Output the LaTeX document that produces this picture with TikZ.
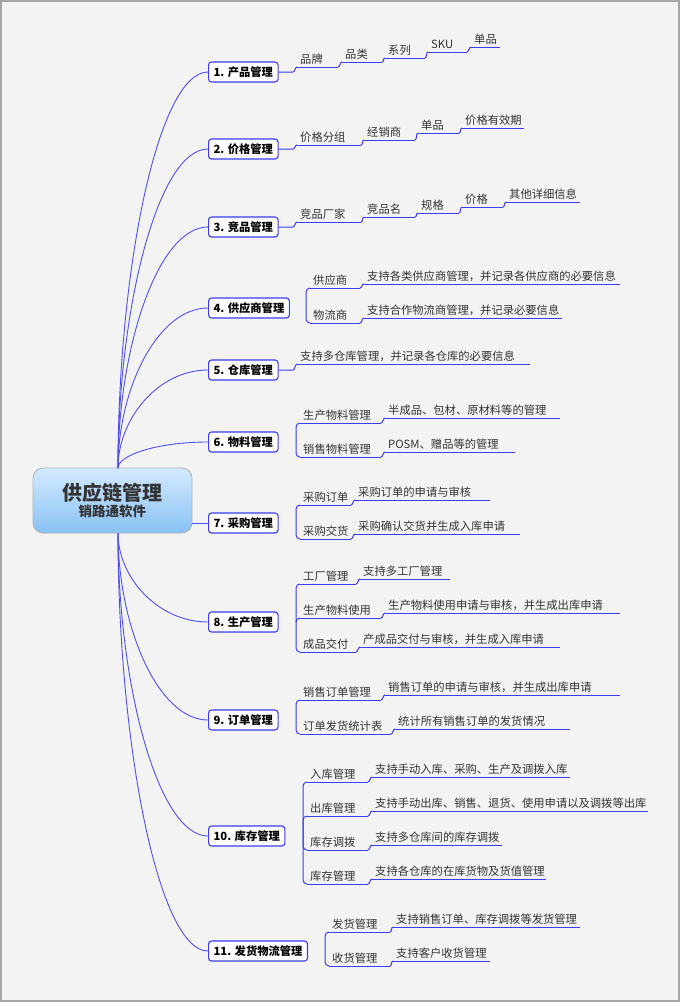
\documentclass[tikz,border=0pt]{standalone}
\usepackage{fontspec}
\setmainfont{Noto Sans CJK SC}
\usetikzlibrary{calc}
\definecolor{bg}{HTML}{F3F3F3}
\definecolor{ln}{HTML}{3C3CF0}
\definecolor{cn}{HTML}{5050EE}
\definecolor{tx}{HTML}{333333}
\definecolor{ctop}{HTML}{D4EAFF}
\definecolor{cbot}{HTML}{88C2F4}
\tikzset{
  ul/.style={draw=ln,line width=1pt},
  conn/.style={draw=cn,line width=0.9pt},
  lbl/.style={inner sep=0pt,font=\fontsize{11.3}{13}\selectfont,text=tx},
  box/.style={draw=ln,line width=1.1pt,rounded corners=3pt,fill=white,inner xsep=5pt,inner ysep=0pt,minimum height=20pt,font=\bfseries\fontsize{11.3}{13}\selectfont,text=black,anchor=west},
}
\newcommand{\seg}[5]{%
  \coordinate (#1-a) at (#2,#4);\coordinate (#1-b) at (#3,#4);
  \draw[ul] (#1-a)--(#1-b);
  \node[lbl,anchor=base west] (#1) at (#2+3,#4-4) {#5};}
\newcommand{\stp}[2]{\draw[ul] (#1-b) .. controls +(2,0) and +(-2,0) .. (#2-a);}
\newcommand{\brc}[3]{\draw[ul,rounded corners=4pt] ($(#1.east)!1!(#2,0|-#1.east)$) |- (#3-a);}
\newcommand{\br}[2]{\draw[conn] (#1) .. controls ($(#1)!0.5!(#1|-#2.west)$) and ($(#2.west)+(-50,0)$) .. (#2.west);}
\begin{document}
\begin{tikzpicture}[x=1pt,y=-1pt]
\useasboundingbox (0,0) rectangle (680,1002);
\draw[fill=bg,draw=gray!70,line width=1.5pt] (1,1) rectangle (679,1001);

\node[draw=gray!60,line width=0.8pt,rounded corners=10pt,top color=ctop,bottom color=cbot,minimum width=159pt,minimum height=65pt,align=center,text=tx] (c) at (112.5,500.5) {{\bfseries\fontsize{20}{24}\selectfont 供应链管理}\\[1pt]{\bfseries\fontsize{13.5}{15}\selectfont 销路通软件}};
\coordinate (ct) at (118,468);
\coordinate (cb) at (118,533);

\node[box] (b1) at (208,72) {1. 产品管理};
\node[box] (b2) at (208,149) {2. 价格管理};
\node[box] (b3) at (208,227) {3. 竞品管理};
\node[box] (b4) at (208,308) {4. 供应商管理};
\node[box] (b5) at (208,370) {5. 仓库管理};
\node[box] (b6) at (208,442) {6. 物料管理};
\node[box] (b7) at (208,523) {7. 采购管理};
\node[box] (b8) at (208,622) {8. 生产管理};
\node[box] (b9) at (208,720) {9. 订单管理};
\node[box] (b10) at (208,836) {10. 库存管理};
\node[box] (b11) at (208,951) {11. 发货物流管理};

\br{ct}{b1}\br{ct}{b2}\br{ct}{b3}\br{ct}{b4}\br{ct}{b5}\br{ct}{b6}
\draw[conn] (c.east|-b7) -- (b7.west);
\br{cb}{b8}\br{cb}{b9}\br{cb}{b10}\br{cb}{b11}

% 1
\seg{p1}{297}{338}{67}{品牌}\seg{p2}{342}{382}{62}{品类}\seg{p3}{385}{425}{58}{系列}\seg{p4}{428}{467}{52}{SKU}\seg{p5}{471}{500}{47}{单品}
\draw[ul] (b1.east) -- (293,72) .. controls (295,72) and (295,67) .. (p1-a);
\stp{p1}{p2}\stp{p2}{p3}\stp{p3}{p4}\stp{p4}{p5}
% 2
\seg{q1}{297}{361}{145}{价格分组}\seg{q2}{364}{415}{140}{经销商}\seg{q3}{418}{459}{133}{单品}\seg{q4}{462}{524}{128}{价格有效期}
\draw[ul] (b2.east) -- (293,149) .. controls (295,149) and (295,145) .. (q1-a);
\stp{q1}{q2}\stp{q2}{q3}\stp{q3}{q4}
% 3
\seg{r1}{297}{361}{222}{竞品厂家}\seg{r2}{364}{415}{217}{竞品名}\seg{r3}{418}{459}{213}{规格}\seg{r4}{462}{503}{207}{价格}\seg{r5}{506}{580}{202}{其他详细信息}
\draw[ul] (b3.east) -- (293,227) .. controls (295,227) and (295,222) .. (r1-a);
\stp{r1}{r2}\stp{r2}{r3}\stp{r3}{r4}\stp{r4}{r5}
% 4
\seg{s1}{310}{360}{288}{供应商}\seg{s1x}{364}{620}{284}{支持各类供应商管理，并记录各供应商的必要信息}
\seg{s2}{310}{360}{323}{物流商}\seg{s2x}{364}{562}{318}{支持合作物流商管理，并记录必要信息}
\brc{b4}{306}{s1}\brc{b4}{306}{s2}\stp{s1}{s1x}\stp{s2}{s2x}
% 5
\seg{t1}{297}{530}{364}{支持多仓库管理，并记录各仓库的必要信息}
\draw[ul] (b5.east) -- (293,370) .. controls (295,370) and (295,364) .. (t1-a);
% 6
\seg{u1}{300}{381}{423}{生产物料管理}\seg{u1x}{385}{560}{418}{半成品、包材、原材料等的管理}
\seg{u2}{300}{381}{457}{销售物料管理}\seg{u2x}{385}{515}{452}{POSM、赠品等的管理}
\brc{b6}{296}{u1}\brc{b6}{296}{u2}\stp{u1}{u1x}\stp{u2}{u2x}
% 7
\seg{v1}{300}{351}{505}{采购订单}\seg{v1x}{355}{490}{500}{采购订单的申请与审核}
\seg{v2}{300}{351}{539}{采购交货}\seg{v2x}{355}{520}{534}{采购确认交货并生成入库申请}
\brc{b7}{296}{v1}\brc{b7}{296}{v2}\stp{v1}{v1x}\stp{v2}{v2x}
% 8
\seg{w1}{300}{356}{584}{工厂管理}\seg{w1x}{360}{450}{579}{支持多工厂管理}
\seg{w2}{300}{381}{618}{生产物料使用}\seg{w2x}{385}{620}{613}{生产物料使用申请与审核，并生成出库申请}
\seg{w3}{300}{356}{652}{成品交付}\seg{w3x}{360}{560}{647}{产成品交付与审核，并生成入库申请}
\brc{b8}{296}{w1}\brc{b8}{296}{w2}\brc{b8}{296}{w3}\stp{w1}{w1x}\stp{w2}{w2x}\stp{w3}{w3x}
% 9
\seg{x1}{300}{381}{700}{销售订单管理}\seg{x1x}{385}{620}{695}{销售订单的申请与审核，并生成出库申请}
\seg{x2}{300}{391}{734}{订单发货统计表}\seg{x2x}{395}{570}{729}{统计所有销售订单的发货情况}
\brc{b9}{296}{x1}\brc{b9}{296}{x2}\stp{x1}{x1x}\stp{x2}{x2x}
% 10
\seg{y1}{307}{368}{782}{入库管理}\seg{y1x}{372}{570}{777}{支持手动入库、采购、生产及调拨入库}
\seg{y2}{307}{368}{816}{出库管理}\seg{y2x}{372}{648}{811}{支持手动出库、销售、退货、使用申请以及调拨等出库}
\seg{y3}{307}{368}{850}{库存调拨}\seg{y3x}{372}{502}{845}{支持多仓库间的库存调拨}
\seg{y4}{307}{368}{884}{库存管理}\seg{y4x}{372}{546}{879}{支持各仓库的在库货物及货值管理}
\brc{b10}{303}{y1}\brc{b10}{303}{y2}\brc{b10}{303}{y3}\brc{b10}{303}{y4}
\stp{y1}{y1x}\stp{y2}{y2x}\stp{y3}{y3x}\stp{y4}{y4x}
% 11
\seg{z1}{329}{390}{932}{发货管理}\seg{z1x}{393}{580}{927}{支持销售订单、库存调拨等发货管理}
\seg{z2}{329}{390}{966}{收货管理}\seg{z2x}{393}{490}{961}{支持客户收货管理}
\brc{b11}{325}{z1}\brc{b11}{325}{z2}\stp{z1}{z1x}\stp{z2}{z2x}
\end{tikzpicture}
\end{document}
